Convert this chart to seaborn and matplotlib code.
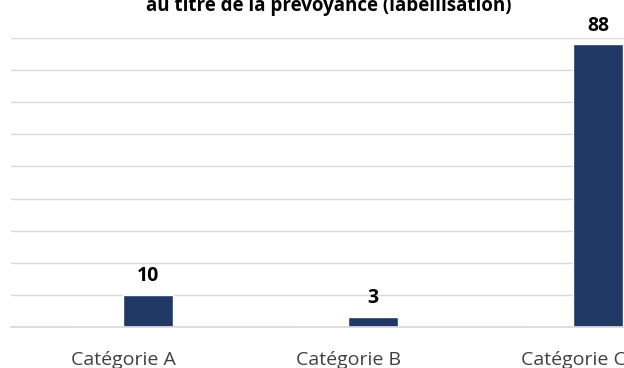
import matplotlib
matplotlib.use("Agg")
import matplotlib.pyplot as plt
import seaborn as sns
import pandas as pd

categories = ["Catégorie A", "Catégorie B", "Catégorie C"]
series_names = ["Autres", "Labellisation"]
other_values = [0, 0, 0]
label_values = [10, 3, 88]
title_text = "au titre de la prévoyance (labellisation)"

df = pd.DataFrame({
    "categorie": categories * 2,
    "serie": [series_names[0]] * 3 + [series_names[1]] * 3,
    "valeur": other_values + label_values,
})

sns.set_theme(style="white")
plt.rcParams["font.family"] = ["Open Sans", "DejaVu Sans"]

fig = plt.figure(figsize=(6.24, 3.68), dpi=100)
W, H = 624, 368
ax = fig.add_axes([10.5 / W, (H - 327) / H, 675 / W, 289 / H])

sns.barplot(data=df, x="categorie", y="valeur", hue="serie",
            palette=["#203864", "#203864"], width=0.444,
            saturation=1, legend=False, ax=ax)

ax.set_xlim(-0.5, 2.5)
ax.set_ylim(0, 90)
ax.set_yticks(range(0, 91, 10))
ax.yaxis.grid(True, color="#d9d9d9", linewidth=1)
ax.set_axisbelow(True)
ax.tick_params(axis="y", left=False, labelleft=False)
ax.tick_params(axis="x", bottom=False, pad=11, labelsize=14, labelcolor="#404040")
for s in ["top", "right", "left"]:
    ax.spines[s].set_visible(False)
ax.spines["bottom"].set_color("#d9d9d9")
ax.set_xlabel("")
ax.set_ylabel("")

# value labels above the labellisation series
bars = ax.containers[1]
for rect, v in zip(bars, label_values):
    ax.annotate(f"{v}", (rect.get_x() + rect.get_width() / 2, v),
                xytext=(0, 10), textcoords="offset points",
                ha="center", va="baseline", fontsize=14,
                fontweight="bold", color="black")

fig.text(329 / W, (H - 11) / H, title_text, ha="center", va="baseline",
         fontsize=13.5, fontweight="bold", color="black")

fig.savefig("out.png", dpi=100)
